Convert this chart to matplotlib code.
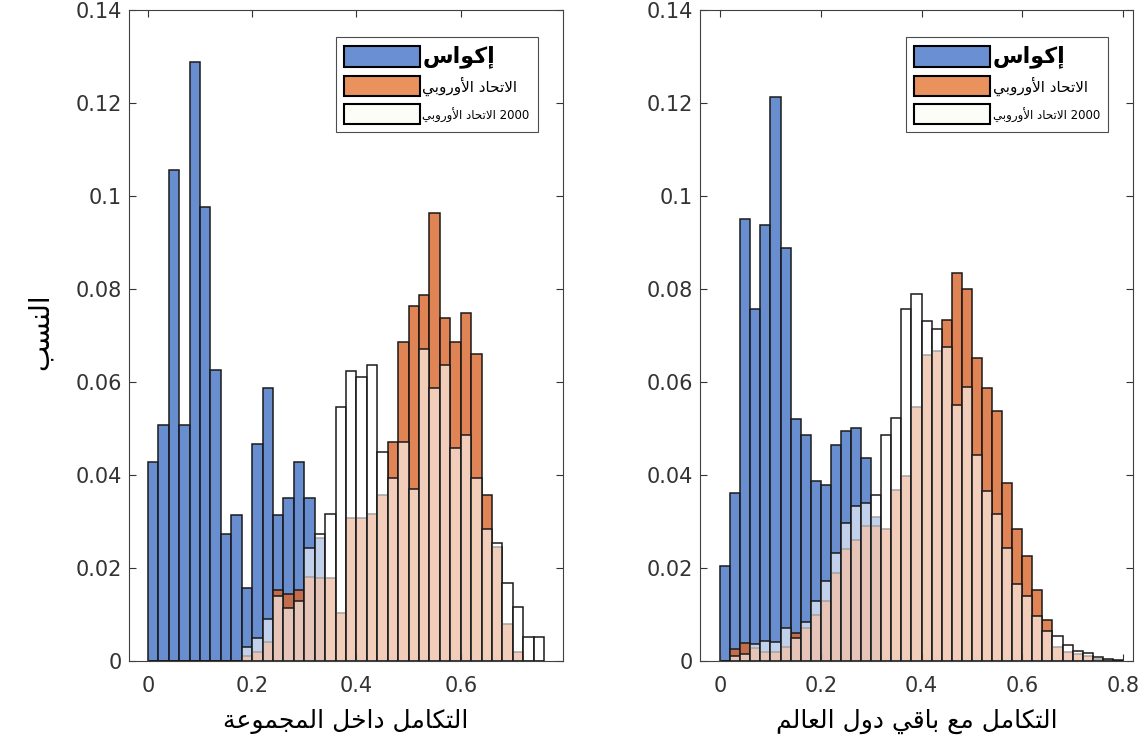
import numpy as np
import matplotlib
matplotlib.use('Agg')
import matplotlib.pyplot as plt
from matplotlib.patches import Patch

# bin width 0.02, bins start at 0
bin_w = 0.02

# left panel: integration inside the group
left_ecowas = [0.0429, 0.0507, 0.1055, 0.0507, 0.1288, 0.0977, 0.0625, 0.0274, 0.0313, 0.0158,
               0.0467, 0.0587, 0.0313, 0.0351, 0.0429, 0.0351, 0.0265, 0, 0, 0,
               0, 0, 0, 0, 0, 0, 0, 0, 0, 0,
               0, 0, 0, 0, 0, 0, 0, 0]
left_eu = [0, 0, 0, 0, 0, 0, 0, 0, 0, 0.001,
           0.002, 0.004, 0.0152, 0.0144, 0.0152, 0.018, 0.0178, 0.0178, 0.0104, 0.0308,
           0.0308, 0.0317, 0.0358, 0.0471, 0.0687, 0.0763, 0.0788, 0.0964, 0.0737, 0.0687,
           0.0749, 0.066, 0.0358, 0.0245, 0.0079, 0.0019, 0, 0]
left_eu2000 = [0, 0, 0, 0, 0, 0, 0, 0, 0, 0.003,
               0.005, 0.009, 0.014, 0.0115, 0.013, 0.0244, 0.0273, 0.0317, 0.0547, 0.0624,
               0.061, 0.0637, 0.0449, 0.0394, 0.0471, 0.037, 0.0672, 0.0587, 0.0637, 0.0458,
               0.0485, 0.0394, 0.0283, 0.0254, 0.0167, 0.0116, 0.0051, 0.0051]

# right panel: integration with the rest of the world
right_ecowas = [0.0204, 0.0362, 0.0951, 0.0756, 0.0937, 0.1212, 0.0889, 0.0521, 0.0485, 0.0387,
                0.0378, 0.0464, 0.0494, 0.0501, 0.0437, 0.031, 0, 0, 0, 0,
                0, 0, 0, 0, 0, 0, 0, 0, 0, 0,
                0, 0, 0, 0, 0, 0, 0, 0, 0, 0]
right_eu = [0, 0.0026, 0.0039, 0.0027, 0.002, 0.002, 0.003, 0.0061, 0.007, 0.010,
            0.013, 0.019, 0.024, 0.026, 0.029, 0.029, 0.0283, 0.0367, 0.0397, 0.0547,
            0.0658, 0.0667, 0.0733, 0.0835, 0.080, 0.0651, 0.0587, 0.0537, 0.0383, 0.0283,
            0.0226, 0.0153, 0.0089, 0.003, 0.002, 0.0015, 0.001, 0.0005, 0.0002, 0]
right_eu2000 = [0, 0.001, 0.0014, 0.0036, 0.0043, 0.004, 0.007, 0.005, 0.0083, 0.0129,
                0.0172, 0.0233, 0.0296, 0.0333, 0.0339, 0.0358, 0.0487, 0.0522, 0.0757, 0.0789,
                0.0732, 0.0714, 0.0675, 0.0551, 0.059, 0.0444, 0.0365, 0.0317, 0.0244, 0.0165,
                0.014, 0.0097, 0.0065, 0.0053, 0.0034, 0.0022, 0.0017, 0.0009, 0.0004, 0.0002]

yticks = [0, 0.02, 0.04, 0.06, 0.08, 0.1, 0.12, 0.14]
ytick_labels = ['0', '0.02', '0.04', '0.06', '0.08', '0.1', '0.12', '0.14']
left_xticks = [0, 0.2, 0.4, 0.6]
left_xtick_labels = ['0', '0.2', '0.4', '0.6']
right_xticks = [0, 0.2, 0.4, 0.6, 0.8]
right_xtick_labels = ['0', '0.2', '0.4', '0.6', '0.8']

name_ecowas = 'إكواس'
name_eu = 'الاتحاد الأوروبي'
xlabel_left = 'التكامل داخل المجموعة'
xlabel_right = 'التكامل مع باقي دول العالم'
ylabel = 'النسب'


# matplotlib has no arabic shaping, so pick the presentation forms by hand
FORMS = {
    'ا': ('\ufe8d', '\ufe8e', None, None),
    'أ': ('\ufe83', '\ufe84', None, None),
    'إ': ('\ufe87', '\ufe88', None, None),
    'ب': ('\ufe8f', '\ufe90', '\ufe91', '\ufe92'),
    'ة': ('\ufe93', '\ufe94', None, None),
    'ت': ('\ufe95', '\ufe96', '\ufe97', '\ufe98'),
    'ج': ('\ufe9d', '\ufe9e', '\ufe9f', '\ufea0'),
    'ح': ('\ufea1', '\ufea2', '\ufea3', '\ufea4'),
    'خ': ('\ufea5', '\ufea6', '\ufea7', '\ufea8'),
    'د': ('\ufea9', '\ufeaa', None, None),
    'ر': ('\ufead', '\ufeae', None, None),
    'س': ('\ufeb1', '\ufeb2', '\ufeb3', '\ufeb4'),
    'ع': ('\ufec9', '\ufeca', '\ufecb', '\ufecc'),
    'ق': ('\ufed5', '\ufed6', '\ufed7', '\ufed8'),
    'ك': ('\ufed9', '\ufeda', '\ufedb', '\ufedc'),
    'ل': ('\ufedd', '\ufede', '\ufedf', '\ufee0'),
    'م': ('\ufee1', '\ufee2', '\ufee3', '\ufee4'),
    'ن': ('\ufee5', '\ufee6', '\ufee7', '\ufee8'),
    'و': ('\ufeed', '\ufeee', None, None),
    'ي': ('\ufef1', '\ufef2', '\ufef3', '\ufef4'),
}
LAM_ALEF = {'ا': ('\ufefb', '\ufefc'), 'أ': ('\ufef7', '\ufef8'), 'إ': ('\ufef9', '\ufefa')}


def shape(s):
    items = []
    i = 0
    while i < len(s):
        if s[i] == 'ل' and i + 1 < len(s) and s[i + 1] in LAM_ALEF:
            items.append(('LA', s[i + 1]))
            i += 2
        else:
            items.append((s[i], None))
            i += 1

    def arabic(it):
        return it is not None and (it[0] == 'LA' or it[0] in FORMS)

    def joins_next(it):
        return it is not None and it[0] in FORMS and FORMS[it[0]][2] is not None

    out = []
    for k, it in enumerate(items):
        prev = items[k - 1] if k > 0 else None
        nxt = items[k + 1] if k + 1 < len(items) else None
        jp = arabic(prev) and joins_next(prev)
        if it[0] == 'LA':
            out.append(LAM_ALEF[it[1]][1] if jp else LAM_ALEF[it[1]][0])
        elif it[0] in FORMS:
            f = FORMS[it[0]]
            jn = f[2] is not None and arabic(nxt)
            if jp and jn:
                out.append(f[3])
            elif jp:
                out.append(f[1])
            elif jn:
                out.append(f[2])
            else:
                out.append(f[0])
        else:
            out.append(it[0])
    return ''.join(out)[::-1]


blue = (0.24, 0.43, 0.76, 0.78)
orange = (0.85, 0.40, 0.17, 0.8)
white = (1, 1, 1, 0.6)
edge = (0.1, 0.1, 0.1)

fig = plt.figure(figsize=(11.48, 7.53), dpi=100)
ax1 = fig.add_axes([129 / 1148, 92 / 753, 434 / 1148, 651 / 753])
ax2 = fig.add_axes([700 / 1148, 92 / 753, 433 / 1148, 651 / 753])


def draw(ax, e, u, w, xlim, xticks, xticklabels, xlab):
    for vals, col in [(e, blue), (u, orange), (w, white)]:
        x = np.arange(len(vals)) * bin_w
        ax.bar(x, vals, width=bin_w, align='edge', facecolor=col,
               edgecolor=edge, linewidth=1.1)
    ax.set_xlim(xlim)
    ax.set_ylim(0, 0.14)
    ax.set_yticks(yticks)
    ax.set_yticklabels(ytick_labels)
    ax.set_xticks(xticks)
    ax.set_xticklabels(xticklabels)
    ax.tick_params(direction='in', top=True, right=True, length=5, width=0.8,
                   labelsize=15, colors='0.2')
    ax.tick_params(axis='x', pad=11)
    ax.tick_params(axis='y', pad=5)
    for sp in ax.spines.values():
        sp.set_color('0.25')
        sp.set_linewidth(0.8)
    ax.set_xlabel(shape(xlab), fontsize=18, labelpad=9)

    handles = [Patch(facecolor='#6a8fd3', edgecolor='black', linewidth=1.5),
               Patch(facecolor='#e9925e', edgecolor='black', linewidth=1.5),
               Patch(facecolor='#fdfdf8', edgecolor='black', linewidth=1.5)]
    labels = [shape(name_ecowas), shape(name_eu), shape(name_eu) + ' 2000']
    leg = ax.legend(handles, labels, loc='upper right', bbox_to_anchor=(0.942, 0.958),
                    fontsize=13, handlelength=4.2, handleheight=1.35, handletextpad=0.15,
                    labelspacing=0.42, borderpad=0.45, borderaxespad=0.0,
                    fancybox=False, framealpha=1)
    leg.get_frame().set_edgecolor('0.3')
    leg.get_frame().set_linewidth(0.8)
    txt = leg.get_texts()
    txt[0].set_fontsize(16)
    txt[0].set_fontweight('bold')
    txt[1].set_fontsize(11)
    txt[2].set_fontsize(8.5)


draw(ax1, left_ecowas, left_eu, left_eu2000, (-0.036, 0.796),
     left_xticks, left_xtick_labels, xlabel_left)
draw(ax2, right_ecowas, right_eu, right_eu2000, (-0.04, 0.82),
     right_xticks, right_xtick_labels, xlabel_right)

fig.text(40 / 1148, 0.56, shape(ylabel), rotation=90, fontsize=20,
         ha='center', va='center')

fig.savefig('out.png', dpi=100)
